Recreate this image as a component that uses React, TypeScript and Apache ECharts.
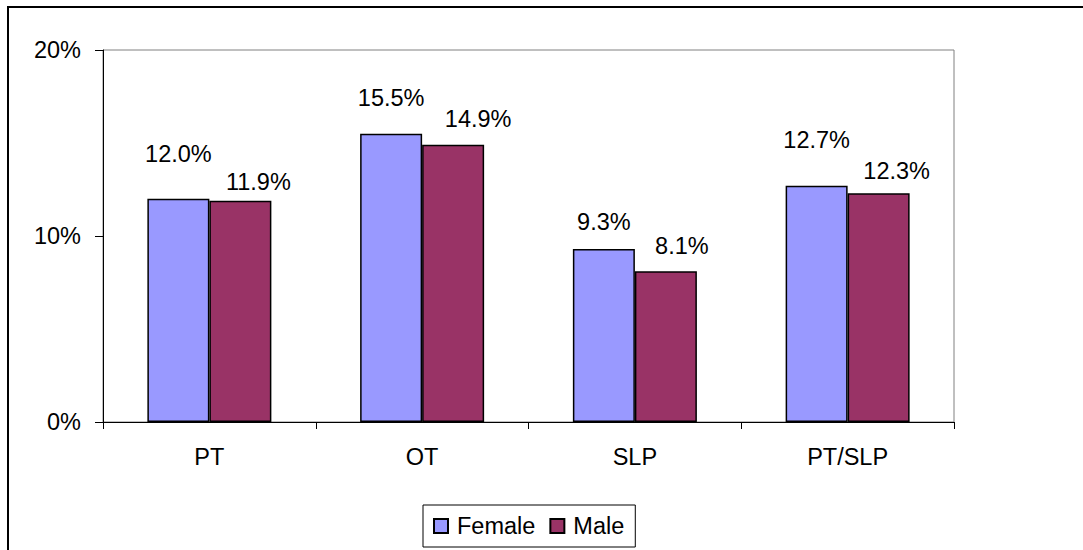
import React, { useEffect, useRef } from "react";
import * as echarts from "echarts";

const categories = ["PT", "OT", "SLP", "PT/SLP"];
const femaleValues = [0.12, 0.155, 0.093, 0.127];
const maleValues = [0.119, 0.149, 0.081, 0.123];
const yTicks = [0, 0.1, 0.2];

const femaleLabelLift = [33, 24, 15, 34];
const maleLabelLift = [7, 14, 13, 10];
const maleLabelShift = [18, 25, 16, 18];

const FONT = "Liberation Sans, Arial, sans-serif";
const FS = 23.5;

export default function App() {
  const ref = useRef<HTMLDivElement>(null);
  useEffect(() => {
    if (!ref.current) return;
    const chart = echarts.init(ref.current, null, { renderer: "svg" });
    const fmt = (v: number) => (v * 100).toFixed(1) + "%";
    const labelBase = {
      show: true,
      position: "top" as const,
      color: "#000",
      fontFamily: FONT,
      fontSize: FS,
      lineHeight: 24,
      formatter: (p: any) => fmt(p.value),
    };
    chart.setOption({
      animation: false,
      backgroundColor: "#fff",
      textStyle: { fontFamily: FONT },
      graphic: [
        {
          type: "rect",
          shape: { x: 8, y: 7, width: 1200, height: 700 },
          style: { fill: "none", stroke: "#000", lineWidth: 2 },
          silent: true,
          z: 100,
        },
      ],
      grid: {
        left: 103,
        top: 50,
        right: 129,
        bottom: 128,
        show: true,
        borderColor: "#808080",
        borderWidth: 1,
        backgroundColor: "transparent",
      },
      legend: {
        bottom: 3,
        left: 423,
        orient: "horizontal",
        data: ["Female", "Male"],
        icon: "rect",
        itemWidth: 14,
        itemHeight: 14,
        itemGap: 14,
        padding: [9, 11, 9, 10],
        borderColor: "#000",
        borderWidth: 1,
        textStyle: { fontFamily: FONT, fontSize: FS, lineHeight: 24, color: "#000", padding: [0, 0, 0, 4] },
      },
      xAxis: {
        type: "category",
        data: categories,
        axisLine: { lineStyle: { color: "#000", width: 1 } },
        axisTick: { show: true, length: 7, lineStyle: { color: "#000" }, alignWithLabel: false },
        axisLabel: { color: "#000", fontSize: FS, fontFamily: FONT, margin: 23 },
        splitLine: { show: false },
      },
      yAxis: {
        type: "value",
        min: yTicks[0],
        max: yTicks[yTicks.length - 1],
        interval: yTicks[1] - yTicks[0],
        axisLine: { show: true, lineStyle: { color: "#000", width: 1 } },
        axisTick: { show: true, length: 8, lineStyle: { color: "#000" } },
        axisLabel: {
          color: "#000",
          fontSize: FS,
          fontFamily: FONT,
          margin: 22,
          formatter: (v: number) => Math.round(v * 100) + "%",
        },
        splitLine: { show: false },
      },
      series: [
        {
          name: "Female",
          type: "bar",
          barWidth: 62,
          barGap: "0%",
          itemStyle: { color: "#9999FF", borderColor: "#000", borderWidth: 1.5 },
          data: femaleValues.map((v, i) => ({
            value: v,
            label: { ...labelBase, distance: femaleLabelLift[i] },
          })),
        },
        {
          name: "Male",
          type: "bar",
          barWidth: 62,
          barGap: "0%",
          itemStyle: { color: "#993366", borderColor: "#000", borderWidth: 1.5 },
          data: maleValues.map((v, i) => ({
            value: v,
            label: { ...labelBase, distance: maleLabelLift[i], offset: [maleLabelShift[i], 0] },
          })),
        },
      ],
    });
    return () => chart.dispose();
  }, []);
  return (
    <div
      ref={ref}
      style={{ position: "absolute", left: 0, top: 0, width: 1083, height: 550 }}
    />
  );
}
